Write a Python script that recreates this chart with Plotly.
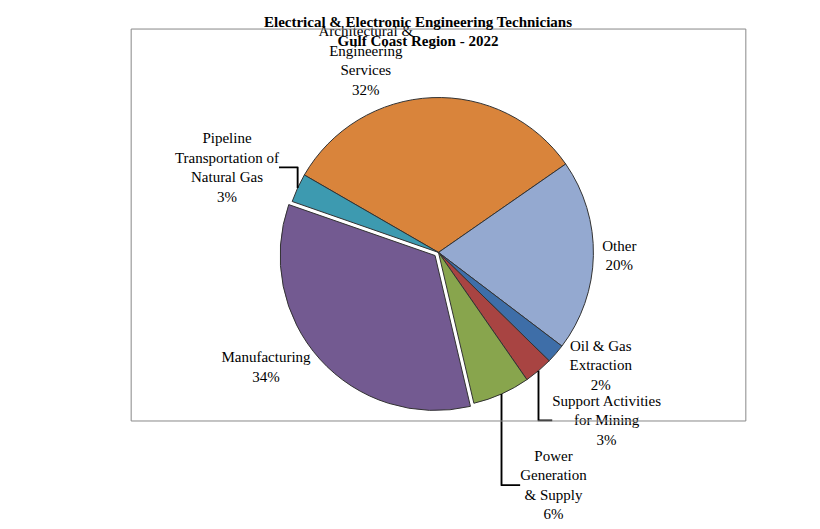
import plotly.graph_objects as go

# industry shares, clockwise from the top-left
industries = ['Architectural &<br>Engineering<br>Services', 'Other', 'Oil & Gas<br>Extraction',
              'Support Activities<br>for Mining', 'Power<br>Generation<br>& Supply', 'Manufacturing',
              'Pipeline<br>Transportation of<br>Natural Gas']
shares = [32, 20, 2, 3, 6, 34, 3]
colors = ['#D9843B', '#94A9D0', '#3E6EA8', '#A84442', '#88A54D', '#735A91', '#3D9AB0']

W, H = 820, 529
L, R, T, B = 20, 20, 75, 15

fig = go.Figure(go.Pie(
    labels=industries,
    values=shares,
    sort=False,
    direction='clockwise',
    rotation=300,
    marker=dict(colors=colors, line=dict(color='#333333', width=1)),
    pull=[0, 0, 0, 0, 0, 0.03, 0],
    textinfo='label+percent',
    textposition='outside',
    texttemplate='%{label}<br>%{percent:.0%}',
    textfont=dict(family='Liberation Serif', size=15, color='black'),
    domain=dict(x=[0.1, 0.9], y=[0.0, 0.97]),
    showlegend=False,
    hoverinfo='label+percent',
))

fig.update_layout(
    title=dict(text='<b>Electrical & Electronic Engineering Technicians<br>Gulf Coast Region - 2022</b>',
               x=0.5, y=0.965, xanchor='center', yanchor='top',
               font=dict(family='Liberation Serif', size=15, color='black')),
    width=W, height=H,
    margin=dict(l=L, r=R, t=T, b=B),
    paper_bgcolor='white',
    shapes=[dict(type='rect', xref='paper', yref='paper',
                 x0=-(L - 3) / (W - L - R), y0=-(B - 3) / (H - T - B),
                 x1=1 + (R - 3) / (W - L - R), y1=1 + (T - 3) / (H - T - B),
                 line=dict(color='#888888', width=1))],
)

fig.write_html("out.html")
